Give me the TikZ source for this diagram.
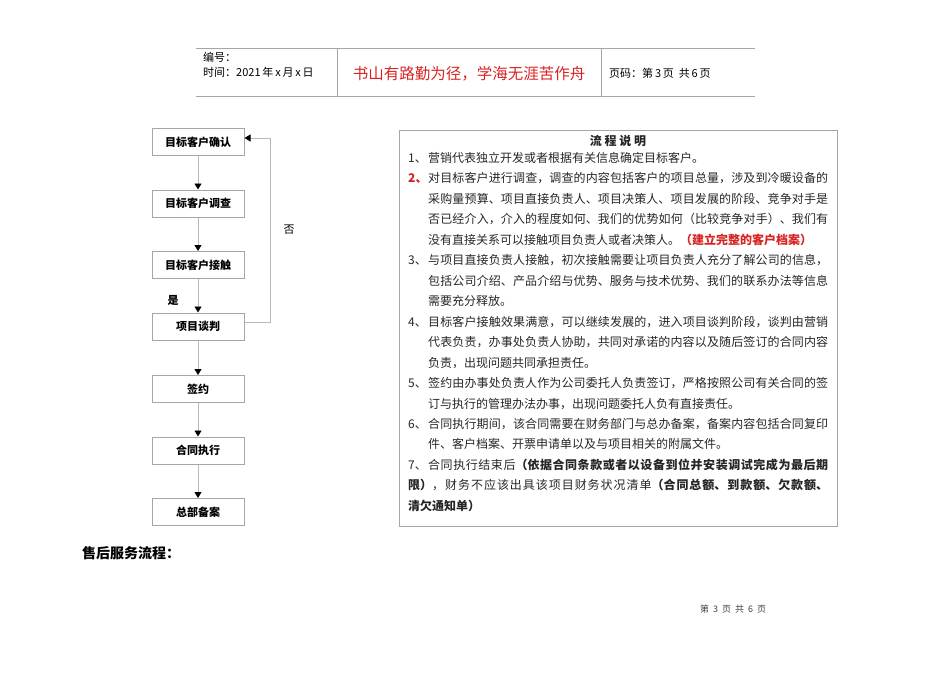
\documentclass[tikz,border=0pt]{standalone}
\usepackage{fontspec}
\setmainfont{Noto Sans CJK SC}
\usetikzlibrary{arrows.meta, positioning}
\XeTeXlinebreaklocale "zh"
\XeTeXlinebreakskip=0pt plus 1pt
\definecolor{linegray}{RGB}{166,166,166}
\definecolor{mottored}{RGB}{215,35,35}
\newcommand{\stepno}[1]{\hangindent=20pt\hangafter=1\makebox[20pt][l]{#1}}

\begin{document}
\begin{tikzpicture}[x=1pt,y=-1pt]
\tikzset{stage/.style = {draw=linegray, line width=1pt, minimum width=92pt, minimum height=27pt, inner sep=0pt, font=\fontsize{11}{13}\selectfont\bfseries}}
\tikzset{flow/.style = {draw=linegray!80, line width=0.8pt, -{Triangle[color=black, width=7pt, length=6pt]}}}
\tikzset{note/.style = {anchor=north west, inner sep=0pt, text width=420pt, align=justify, text=black!85, font=\fontsize{12}{20.47}\selectfont}}
\tikzset{small/.style = {anchor=west, inner sep=0pt, font=\fontsize{11}{13}\selectfont}}
\useasboundingbox (0,0) rectangle (950,672);
% header
\draw[linegray, line width=1pt] (196,48) -- (755,48);
\draw[linegray, line width=1pt] (196,96) -- (755,96);
\draw[linegray, line width=1pt] (337,48) -- (337,96);
\draw[linegray, line width=1pt] (601,48) -- (601,96);
\node[small] (code) at (203,57) {编号：};
\node[small] (date) at (203,72) {时间：2021\,年\,x\,月\,x\,日};
\node[font=\fontsize{15.5}{18}\selectfont, text=mottored] (motto) at (469,74) {书山有路勤为径，学海无涯苦作舟};
\node[small] (page) at (609,73) {页码：第\,3\,页\ \ 共\,6\,页};
% flow
\node[stage] (confirm) at (198,142) {目标客户确认};
\node[stage] (survey) at (198,203.5) {目标客户调查};
\node[stage] (contact) at (198,265) {目标客户接触};
\node[stage] (talk) at (198,326.5) {项目谈判};
\node[stage] (sign) at (198,389) {签约};
\node[stage] (run) at (198,450.5) {合同执行};
\node[stage] (file) at (198,512) {总部备案};
\draw[flow] (confirm) -- (survey);
\draw[flow] (survey) -- (contact);
\draw[flow] (contact) -- (talk);
\draw[flow] (talk) -- (sign);
\draw[flow] (sign) -- (run);
\draw[flow] (run) -- (file);
\draw[flow] ([yshift=4.5pt]talk.east) -- ++(26,0) |- ([yshift=4pt]confirm.east);
\node[font=\fontsize{11}{13}\selectfont\bfseries] (yes) at (173,300) {是};
\node[font=\fontsize{11}{13}\selectfont] (no) at (289,230) {否};
% notes
\draw[linegray, line width=1pt] (399,130) rectangle (837,526);
\node[font=\fontsize{12}{14}\selectfont\bfseries, text=black!85] (title) at (618,141) {流 程 说 明};
\node[note] (notes) at (408,152) {%
\stepno{1、}营销代表独立开发或者根据有关信息确定目标客户。\par
\stepno{\textcolor{mottored}{\bfseries 2、}}对目标客户进行调查，调查的内容包括客户的项目总量，涉及到冷暖设备的\linebreak
采购量预算、项目直接负责人、项目决策人、项目发展的阶段、竞争对手是\linebreak
否已经介入，介入的程度如何、我们的优势如何（比较竞争对手）、我们有\linebreak
没有直接关系可以接触项目负责人或者决策人。{\color{mottored}\bfseries（建立完整的客户档案）}\par
\stepno{3、}与项目直接负责人接触，初次接触需要让项目负责人充分了解公司的信息，\linebreak
包括公司介绍、产品介绍与优势、服务与技术优势、我们的联系办法等信息\linebreak
需要充分释放。\par
\stepno{4、}目标客户接触效果满意，可以继续发展的，进入项目谈判阶段，谈判由营销\linebreak
代表负责，办事处负责人协助，共同对承诺的内容以及随后签订的合同内容\linebreak
负责，出现问题共同承担责任。\par
\stepno{5、}签约由办事处负责人作为公司委托人负责签订，严格按照公司有关合同的签\linebreak
订与执行的管理办法办事，出现问题委托人负有直接责任。\par
\stepno{6、}合同执行期间，该合同需要在财务部门与总办备案，备案内容包括合同复印\linebreak
件、客户档案、开票申请单以及与项目相关的附属文件。\par
\stepno{7、}合同执行结束后{\bfseries（依据合同条款或者以设备到位并安装调试完成为最后期\linebreak
限）}，财务不应该出具该项目财务状况清单{\bfseries（合同总额、到款额、欠款额、\linebreak
清欠通知单）}};
% bottom
\node[anchor=west, inner sep=0pt, font=\fontsize{14}{16}\selectfont\bfseries] (service) at (82,553) {售后服务流程：};
\node[font=\fontsize{9}{11}\selectfont, text=black!75] (foot) at (733,609) {第\hspace{4pt}3\hspace{4pt}页\hspace{4pt}共\hspace{4pt}6\hspace{4pt}页};
\end{tikzpicture}
\end{document}
